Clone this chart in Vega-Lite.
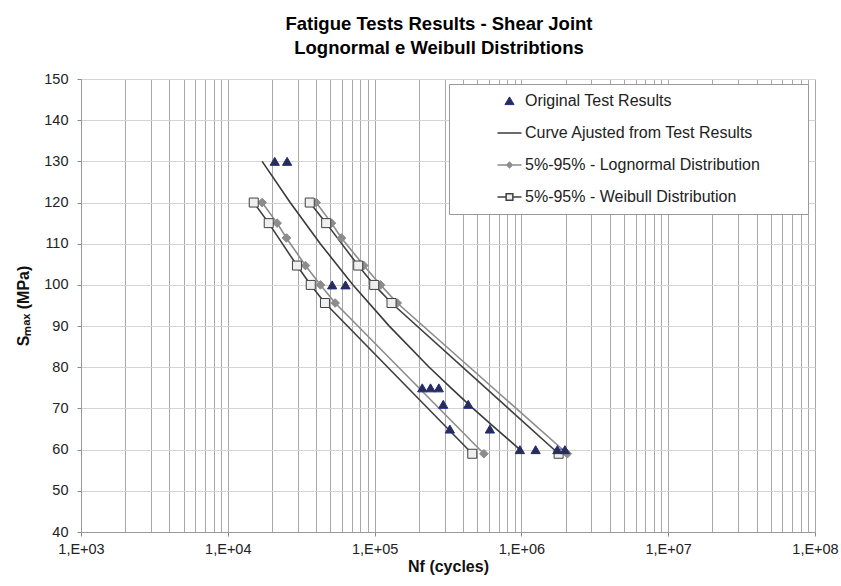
{
  "$schema": "https://vega.github.io/schema/vega-lite/v6.json",
  "width": 734,
  "height": 453,
  "autosize": {"type": "none"},
  "padding": {"left": 81, "top": 79, "right": 26, "bottom": 54},
  "background": "white",
  "config": {
    "view": {"stroke": null},
    "font": "Liberation Sans"
  },
  "title": {
    "text": ["Fatigue  Tests Results -  Shear Joint", "Lognormal  e Weibull Distribtions"],
    "font": "Liberation Sans",
    "fontSize": 18.5,
    "fontWeight": "bold",
    "color": "#000000",
    "lineHeight": 24,
    "anchor": "middle",
    "frame": "group",
    "dx": -9,
    "offset": 14
  },
  "data": {
    "values": [
      {"s": "5%-95% - Lognormal Distribution", "g": "L-lo", "N": 17130, "S": 120},
      {"s": "5%-95% - Lognormal Distribution", "g": "L-lo", "N": 21680, "S": 115},
      {"s": "5%-95% - Lognormal Distribution", "g": "L-lo", "N": 25090, "S": 111.4},
      {"s": "5%-95% - Lognormal Distribution", "g": "L-lo", "N": 33810, "S": 104.7},
      {"s": "5%-95% - Lognormal Distribution", "g": "L-lo", "N": 42790, "S": 100},
      {"s": "5%-95% - Lognormal Distribution", "g": "L-lo", "N": 53880, "S": 95.6},
      {"s": "5%-95% - Lognormal Distribution", "g": "L-lo", "N": 555200, "S": 59},
      {"s": "5%-95% - Lognormal Distribution", "g": "L-hi", "N": 39990, "S": 120},
      {"s": "5%-95% - Lognormal Distribution", "g": "L-hi", "N": 50840, "S": 115},
      {"s": "5%-95% - Lognormal Distribution", "g": "L-hi", "N": 59480, "S": 111.4},
      {"s": "5%-95% - Lognormal Distribution", "g": "L-hi", "N": 84410, "S": 104.7},
      {"s": "5%-95% - Lognormal Distribution", "g": "L-hi", "N": 109700, "S": 100},
      {"s": "5%-95% - Lognormal Distribution", "g": "L-hi", "N": 142600, "S": 95.6},
      {"s": "5%-95% - Lognormal Distribution", "g": "L-hi", "N": 2055000, "S": 59},
      {"s": "5%-95% - Weibull Distribution", "g": "W-lo", "N": 15020, "S": 120},
      {"s": "5%-95% - Weibull Distribution", "g": "W-lo", "N": 19000, "S": 115},
      {"s": "5%-95% - Weibull Distribution", "g": "W-lo", "N": 29580, "S": 104.7},
      {"s": "5%-95% - Weibull Distribution", "g": "W-lo", "N": 36740, "S": 100},
      {"s": "5%-95% - Weibull Distribution", "g": "W-lo", "N": 45910, "S": 95.6},
      {"s": "5%-95% - Weibull Distribution", "g": "W-lo", "N": 462800, "S": 59},
      {"s": "5%-95% - Weibull Distribution", "g": "W-hi", "N": 36160, "S": 120},
      {"s": "5%-95% - Weibull Distribution", "g": "W-hi", "N": 46790, "S": 115},
      {"s": "5%-95% - Weibull Distribution", "g": "W-hi", "N": 77310, "S": 104.7},
      {"s": "5%-95% - Weibull Distribution", "g": "W-hi", "N": 99380, "S": 100},
      {"s": "5%-95% - Weibull Distribution", "g": "W-hi", "N": 130400, "S": 95.6},
      {"s": "5%-95% - Weibull Distribution", "g": "W-hi", "N": 1793000, "S": 59},
      {"s": "Curve Ajusted from Test Results", "g": "fit", "N": 17140, "S": 130},
      {"s": "Curve Ajusted from Test Results", "g": "fit", "N": 26600, "S": 120},
      {"s": "Curve Ajusted from Test Results", "g": "fit", "N": 42660, "S": 110},
      {"s": "Curve Ajusted from Test Results", "g": "fit", "N": 71290, "S": 100},
      {"s": "Curve Ajusted from Test Results", "g": "fit", "N": 125900, "S": 90},
      {"s": "Curve Ajusted from Test Results", "g": "fit", "N": 235500, "S": 80},
      {"s": "Curve Ajusted from Test Results", "g": "fit", "N": 331100, "S": 75},
      {"s": "Curve Ajusted from Test Results", "g": "fit", "N": 467700, "S": 70},
      {"s": "Curve Ajusted from Test Results", "g": "fit", "N": 676100, "S": 65},
      {"s": "Curve Ajusted from Test Results", "g": "fit", "N": 977200, "S": 60},
      {"s": "Original Test Results", "g": "test", "N": 20880, "S": 130},
      {"s": "Original Test Results", "g": "test", "N": 25350, "S": 130},
      {"s": "Original Test Results", "g": "test", "N": 51400, "S": 100},
      {"s": "Original Test Results", "g": "test", "N": 63340, "S": 100},
      {"s": "Original Test Results", "g": "test", "N": 211100, "S": 75},
      {"s": "Original Test Results", "g": "test", "N": 240400, "S": 75},
      {"s": "Original Test Results", "g": "test", "N": 273900, "S": 75},
      {"s": "Original Test Results", "g": "test", "N": 293500, "S": 71},
      {"s": "Original Test Results", "g": "test", "N": 434600, "S": 71},
      {"s": "Original Test Results", "g": "test", "N": 325500, "S": 65},
      {"s": "Original Test Results", "g": "test", "N": 610000, "S": 65},
      {"s": "Original Test Results", "g": "test", "N": 977000, "S": 60},
      {"s": "Original Test Results", "g": "test", "N": 1250000, "S": 60},
      {"s": "Original Test Results", "g": "test", "N": 1757000, "S": 60},
      {"s": "Original Test Results", "g": "test", "N": 1979000, "S": 60}
    ]
  },
  "encoding": {
    "x": {
      "field": "N",
      "type": "quantitative",
      "scale": {"type": "log", "domain": [1000, 100000000], "nice": false},
      "axis": {
        "title": "Nf (cycles)",
        "titleFont": "Liberation Sans",
        "titleFontSize": 16,
        "titleFontWeight": "bold",
        "titleColor": "#111",
        "titlePadding": 3,
        "titleDx": 5,
        "values": [1000, 2000, 3000, 4000, 5000, 6000, 7000, 8000, 9000,
                   10000, 20000, 30000, 40000, 50000, 60000, 70000, 80000, 90000,
                   100000, 200000, 300000, 400000, 500000, 600000, 700000, 800000, 900000,
                   1000000, 2000000, 3000000, 4000000, 5000000, 6000000, 7000000, 8000000, 9000000,
                   10000000, 20000000, 30000000, 40000000, 50000000, 60000000, 70000000, 80000000, 90000000,
                   100000000],
        "labelExpr": "abs(log(datum.value)/LN10 - round(log(datum.value)/LN10)) < 1e-6 ? '1,E+0' + round(log(datum.value)/LN10) : ''",
        "labelOverlap": false,
        "labelFlush": false,
        "labelFont": "Liberation Sans",
        "labelFontSize": 14.5,
        "labelColor": "#222",
        "labelPadding": 6,
        "grid": true,
        "gridColor": "#a8a8a8",
        "gridWidth": 1,
        "ticks": true,
        "tickSize": 4,
        "tickColor": "#888",
        "tickOpacity": {"condition": {"test": "abs(log(datum.value)/LN10 - round(log(datum.value)/LN10)) < 1e-6", "value": 1}, "value": 0},
        "domainColor": "#999"
      }
    },
    "y": {
      "field": "S",
      "type": "quantitative",
      "scale": {"domain": [40, 150], "nice": false, "zero": false},
      "axis": {
        "title": "Sₘₐₓ (MPa)",
        "titleFont": "Liberation Sans",
        "titleFontSize": 16,
        "titleFontWeight": "bold",
        "titleColor": "#111",
        "titlePadding": 12,
        "values": [40, 50, 60, 70, 80, 90, 100, 110, 120, 130, 140, 150],
        "labelFont": "Liberation Sans",
        "labelFontSize": 14.5,
        "labelColor": "#222",
        "labelPadding": 9,
        "grid": true,
        "gridColor": "#d4d4d4",
        "gridWidth": 1,
        "tickSize": 4,
        "tickColor": "#888",
        "domainColor": "#999"
      }
    }
  },
  "resolve": {
    "scale": {"stroke": "independent", "shape": "independent", "fill": "independent", "size": "independent"},
    "legend": {"stroke": "independent", "shape": "independent", "fill": "independent", "size": "independent"}
  },
  "layer": [
    {
      "transform": [{"filter": "datum.g !== 'test'"}],
      "mark": {"type": "line", "strokeWidth": 1.6},
      "encoding": {
        "detail": {"field": "g"},
        "stroke": {
          "field": "s",
          "type": "nominal",
          "scale": {
            "domain": ["Original Test Results", "Curve Ajusted from Test Results", "5%-95% - Lognormal Distribution", "5%-95% - Weibull Distribution"],
            "range": ["#1f2a8a", "#3a3a3a", "#8c8c8c", "#404040"]
          },
          "legend": {
            "orient": "none",
            "legendX": 368,
            "legendY": 5,
            "title": null,
            "symbolSize": 576,
            "padding": 9,
            "rowPadding": 16,
            "symbolOffset": 43.5,
            "labelOffset": 7.5,
            "labelFont": "Liberation Sans",
            "labelFontSize": 16,
            "labelColor": "#222",
            "labelLimit": 500,
            "labelExpr": "datum.label + '\u00a0\u00a0\u00a0\u00a0\u00a0\u00a0\u2800'",
            "strokeColor": "#999",
            "fillColor": "white",
            "encode": {
              "symbols": {
                "update": {
                  "shape": {"signal": "datum.value === 'Original Test Results' ? 'M0,-0.34L0.38,0.3L-0.38,0.3Z' : datum.value === 'Curve Ajusted from Test Results' ? 'M-1,0L1,0' : datum.value === '5%-95% - Lognormal Distribution' ? 'M-1,0L-0.2,0M0.2,0L1,0M0,-0.22L0.22,0L0,0.22L-0.22,0Z' : 'M-1,0L-0.28,0M0.28,0L1,0M-0.28,-0.28L0.28,-0.28L0.28,0.28L-0.28,0.28Z'"},
                  "fill": {"signal": "datum.value === 'Original Test Results' ? '#2b2d4f' : datum.value === 'Curve Ajusted from Test Results' ? 'transparent' : datum.value === '5%-95% - Lognormal Distribution' ? '#8c8c8c' : '#efefef'"},
                  "stroke": {"signal": "datum.value === 'Original Test Results' ? '#1f2a8a' : datum.value === '5%-95% - Lognormal Distribution' ? '#8c8c8c' : '#3a3a3a'"},
                  "strokeWidth": {"signal": "datum.value === 'Original Test Results' ? 1 : 1.5"},
                  "size": {"value": 576},
                  "opacity": {"value": 1}
                }
              }
            }
          }
        }
      }
    },
    {
      "transform": [{"filter": "datum.g !== 'fit'"}],
      "mark": {"type": "point", "filled": true, "opacity": 1, "strokeWidth": 1},
      "encoding": {
        "shape": {
          "field": "s",
          "type": "nominal",
          "scale": {
            "domain": ["Original Test Results", "5%-95% - Lognormal Distribution", "5%-95% - Weibull Distribution"],
            "range": ["triangle-up", "diamond", "square"]
          },
          "legend": null
        },
        "fill": {
          "field": "s",
          "type": "nominal",
          "scale": {
            "domain": ["Original Test Results", "5%-95% - Lognormal Distribution", "5%-95% - Weibull Distribution"],
            "range": ["#2b2d4f", "#8c8c8c", "#efefef"]
          },
          "legend": null
        },
        "size": {
          "field": "s",
          "type": "nominal",
          "scale": {
            "type": "ordinal",
            "domain": ["Original Test Results", "5%-95% - Lognormal Distribution", "5%-95% - Weibull Distribution"],
            "range": [85, 75, 81]
          },
          "legend": null
        },
        "stroke": {
          "field": "s",
          "type": "nominal",
          "scale": {
            "domain": ["Original Test Results", "5%-95% - Lognormal Distribution", "5%-95% - Weibull Distribution"],
            "range": ["#1f2a8a", "#8c8c8c", "#404040"]
          },
          "legend": null
        }
      }
    }
  ]
}
